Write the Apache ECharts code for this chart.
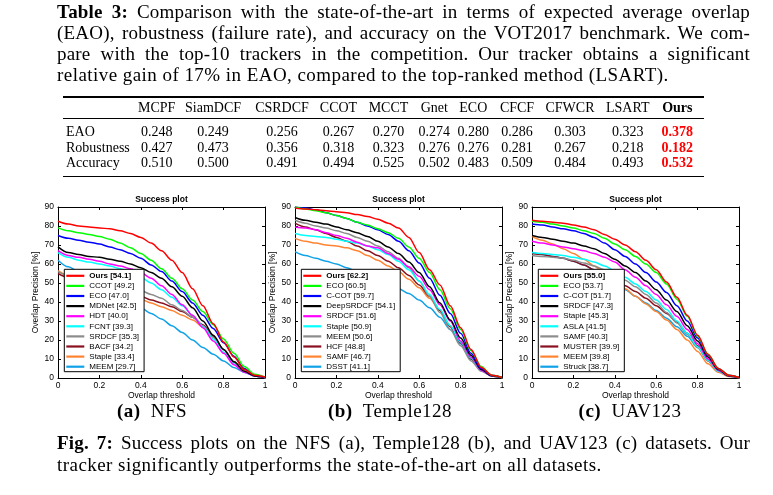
<!DOCTYPE html>
<html><head><meta charset="utf-8">
<script src="https://cdn.jsdelivr.net/npm/echarts@6/dist/echarts.min.js"></script>
<style>
html,body{margin:0;padding:0;background:#fff;}
#page{position:relative;width:773px;height:495px;overflow:hidden;background:#fff;}
#chart{position:absolute;left:0;top:0;width:773px;height:495px;}
.txt{position:absolute;font-family:"Liberation Serif","Times New Roman",serif;color:#000;white-space:nowrap;}
.cap{left:57px;width:693px;font-size:19px;line-height:21px;letter-spacing:0.45px;}
.just{text-align:justify;text-align-last:justify;white-space:normal;letter-spacing:0.2px;}
.rule{position:absolute;left:63px;width:641px;background:#000;}
.cell{position:absolute;font-family:"Liberation Serif","Times New Roman",serif;font-size:14px;line-height:16px;white-space:nowrap;transform:translateX(-50%);color:#000;}
.lab{position:absolute;font-family:"Liberation Serif","Times New Roman",serif;font-size:14px;line-height:16px;white-space:nowrap;left:66px;}
.sub{position:absolute;font-family:"Liberation Serif","Times New Roman",serif;font-size:19px;line-height:20px;letter-spacing:0.45px;white-space:nowrap;transform:translateX(-50%);top:401px;}
</style>
</head><body>
<div id="page">
  <div id="chart"></div>
  <div class="txt cap just" style="top:1px"><b>Table 3:</b> Comparison with the state-of-the-art in terms of expected average overlap</div>
  <div class="txt cap just" style="top:22px">(EAO), robustness (failure rate), and accuracy on the VOT2017 benchmark. We com-</div>
  <div class="txt cap just" style="top:43px">pare with the top-10 trackers in the competition. Our tracker obtains a significant</div>
  <div class="txt cap" style="top:64px">relative gain of 17% in EAO, compared to the top-ranked method (LSART).</div>
  <div class="rule" style="top:96px;height:1.5px"></div>
  <div class="rule" style="top:118px;height:1px"></div>
  <div class="rule" style="top:175.5px;height:1.5px"></div>
  <div id="table"></div>
  <div class="sub" style="left:152px"><b>(a)</b>&nbsp; NFS</div>
  <div class="sub" style="left:390px"><b>(b)</b>&nbsp; Temple128</div>
  <div class="sub" style="left:630px"><b>(c)</b>&nbsp; UAV123</div>
  <div class="txt cap just" style="top:432px"><b>Fig. 7:</b> Success plots on the NFS (a), Temple128 (b), and UAV123 (c) datasets. Our</div>
  <div class="txt cap" style="top:454px">tracker significantly outperforms the state-of-the-art on all datasets.</div>
</div>
<script>
// ---------- Table data ----------
const tableMethods = ['MCPF','SiamDCF','CSRDCF','CCOT','MCCT','Gnet','ECO','CFCF','CFWCR','LSART','Ours'];
const rowLabels = ['EAO','Robustness','Accuracy'];
const eaoValues = ['0.248','0.249','0.256','0.267','0.270','0.274','0.280','0.286','0.303','0.323','0.378'];
const robustnessValues = ['0.427','0.473','0.356','0.318','0.323','0.276','0.276','0.281','0.267','0.218','0.182'];
const accuracyValues = ['0.510','0.500','0.491','0.494','0.525','0.502','0.483','0.509','0.484','0.493','0.532'];

// ---------- Chart data ----------
const thresholds = [0,0.05,0.1,0.15,0.2,0.25,0.3,0.35,0.4,0.45,0.5,0.55,0.6,0.65,0.7,0.75,0.8,0.85,0.9,0.95,1];
const xTicks = [0,0.2,0.4,0.6,0.8,1];
const yTicks = [0,10,20,30,40,50,60,70,80,90];

const nfsNames = ['Ours [54.1]','CCOT [49.2]','ECO [47.0]','MDNet [42.5]','HDT [40.0]','FCNT [39.3]','SRDCF [35.3]','BACF [34.2]','Staple [33.4]','MEEM [29.7]'];
const nfsOurs   = [82.5,81,80,79.5,79,78.5,77.5,76,74,71,67,62,55.5,47,38,28.5,19,11,4.5,1.5,0.5];
const nfsCCOT   = [79,77.5,76.5,75.5,74.5,73,71,68.5,65.5,62,57.5,52.5,47,41,35,28,20.5,13,6,2,0.5];
const nfsECO    = [75,73.5,72.5,71.5,70.5,69,67.5,65.5,63,59.5,56,51,45.5,39.5,33,26,18.5,11.5,5,1.5,0.3];
const nfsMDNet  = [69,66,65,64,63.5,62.5,61.5,60,58,55.5,52.5,48,43,37,30,22.5,15,8.5,3.5,1,0.2];
const nfsHDT    = [67,64.5,63.5,62.5,61.5,60,59,57.5,55.5,52.5,48.5,44,38.5,33,26.5,19.5,13,7,3,1,0.2];
const nfsFCNT   = [66,63.5,62,61,60,59,57.5,55.5,53,50,46.5,42.5,38,33,27,20.5,13.5,7.5,3,1,0.2];
const nfsSRDCF  = [56,54,53.5,52.5,51.5,50.5,49,47.5,46,44,42,38.5,35.5,32,27.5,21.5,15,8.5,3.5,1,0.2];
const nfsBACF   = [55,53,51.5,50.5,49.5,48.5,47,45,43,41,39.5,37.5,35,32,28,22,15,8.5,3.5,1,0.2];
const nfsStaple = [56.5,54,52,50.5,49,47.5,45.5,43.5,41.5,39.5,37.5,35.5,33,30.5,27,21.5,15,8.5,3.5,1,0.2];
const nfsMEEM   = [62,58.5,56,53.5,51,47.5,44,40,37,34,31,27.5,24,20,16,12.5,9,5.5,3,1,0.2];

const templeNames = ['Ours [62.2]','ECO [60.5]','C-COT [59.7]','DeepSRDCF [54.1]','SRDCF [51.6]','Staple [50.9]','MEEM [50.6]','HCF [48.8]','SAMF [46.7]','DSST [41.1]'];
const tOurs      = [89.5,89,88.5,88,87.5,87,86,85,83.5,81.5,79,74,66,57,49,38,26.5,15,5.5,1.5,0.3];
const tECO       = [90,89,88,87,85.5,84,82,80.5,78.5,76.5,73.5,69,63,55.5,46.5,36.5,25.5,14.5,6,1.5,0.3];
const tCCOT      = [90,89.5,88.5,87,85.5,84,82,80,78,75.5,72,67,60.5,52.5,43.5,34,23.5,13,5,1.5,0.3];
const tDeepSRDCF = [84.5,83,82,81,79.5,78,76.5,74.5,72,69,65.5,61,55.5,48,39.5,30.5,21,12,4.5,1.2,0.2];
const tSRDCF     = [79.5,79,78,76.5,75,73.5,71.5,69.5,68.5,65.5,62.5,58.5,53.5,46.5,38.5,30,19.5,11,4,1,0.2];
const tStaple    = [76,75,74.5,74,73,72,71,69.5,67.5,65,61.5,57,51,44,36,27.5,19,10.5,4,1,0.2];
const tMEEM      = [83,81.5,80,79,77.5,76,74,72,69.5,66.5,63,58,51,43,34.5,25.5,17,9,3.5,1,0.2];
const tHCF       = [81.5,79.5,78,76,74,72,69.5,67,64.5,61.5,58,54,49,43,35.5,27,18.5,10,4,1,0.2];
const tSAMF      = [73.5,72,71,70,69.5,68.5,67,64.5,62,59,56,52,47.5,42,35.5,27.5,19,10.5,4,1,0.2];
const tDSST      = [66.5,64.5,63,61.5,60,58,56,53.5,51,49,47,44.5,41,37,32,25.5,18,10,4,1,0.2];

const uavNames = ['Ours [55.0]','ECO [53.7]','C-COT [51.7]','SRDCF [47.3]','Staple [45.3]','ASLA [41.5]','SAMF [40.3]','MUSTER [39.9]','MEEM [39.8]','Struck [38.7]'];
const uOurs   = [83,82.5,82,81.5,80.5,79.5,78,75.5,73,70,66.5,62,57,50.5,42.5,33,22.5,12.5,5,1.5,0.3];
const uECO    = [82.5,82,81,80,79,77.5,76,73.5,70.5,67.5,64,60,55.5,49.5,41.5,32.5,22,12.5,5,1.5,0.3];
const uCCOT   = [81,80.5,79.5,78.5,77.5,76,74,71,67.5,64,60,55.5,50.5,45,38,30,21,12,5,1.5,0.3];
const uSRDCF  = [75,74,73,72,71,69.5,68,65.5,62.5,59,55.5,51,46.5,41,35,27.5,19.5,11,4.5,1.2,0.2];
const uStaple = [72,71,70,69,68,67,65.5,63.5,61,57,53,48.5,44,38.5,32.5,25.5,18,10,4,1,0.2];
const uASLA   = [66,65.5,65,64.5,63.5,62.5,61,59,56.5,53,49.5,45.5,41,36,30,23.5,16.5,9.5,3.5,1,0.2];
const uSAMF   = [64.5,64,63.5,63,62,60.5,59,57,54.5,51.5,48,44,39.5,34.5,29,23,16,9,3.5,1,0.2];
const uMUSTER = [65.5,65,64,63,61.5,59.5,57,54,51.5,48.5,45.5,42,38,34,29.5,23.5,17,10,4,1,0.2];
const uMEEM   = [74.5,72.5,70.5,68,65.5,62.5,59,55,51,47,43,39,35,30.5,25.5,20,14,7.5,3,0.8,0.1];
const uStruck = [66,65,64,63,61.5,59.5,57,53.5,50,46.5,43,39.5,35.5,31.5,27,22,16,9,3.5,1,0.2];

// ---------- Styles / layout ----------
const palette = ['#ff0000','#00ff00','#0000ff','#000000','#ff00ff','#00ffff','#8c8c8c','#8a1020','#ff8330','#10a2e8'];
const SANS = '"Liberation Sans", Arial, Helvetica, sans-serif';
const colCenters = [156.7,213,282,338.5,388.5,434.3,473.3,517,570,627.7,677.3];
const rowCenters = [108.3,131.7,147.7,163.3];

// ---------- Table (HTML) ----------
(function(){
  const t = document.getElementById('table');
  const rows = [eaoValues, robustnessValues, accuracyValues];
  let html = '';
  tableMethods.forEach((m,i)=>{
    const b = m==='Ours';
    html += `<div class="cell" style="left:${colCenters[i]}px;top:${rowCenters[0]-8}px;${b?'font-weight:bold;':''}">${m}</div>`;
  });
  rows.forEach((r,ri)=>{
    html += `<div class="lab" style="top:${rowCenters[ri+1]-8}px">${rowLabels[ri]}</div>`;
    r.forEach((v,i)=>{
      const b = tableMethods[i]==='Ours';
      html += `<div class="cell" style="left:${colCenters[i]}px;top:${rowCenters[ri+1]-8}px;${b?'font-weight:bold;color:#ff0000;':''}">${v}</div>`;
    });
  });
  t.innerHTML = html;
})();

// ---------- Charts ----------
const panels = [
  {names: nfsNames, values: [nfsOurs,nfsCCOT,nfsECO,nfsMDNet,nfsHDT,nfsFCNT,nfsSRDCF,nfsBACF,nfsStaple,nfsMEEM]},
  {names: templeNames, values: [tOurs,tECO,tCCOT,tDeepSRDCF,tSRDCF,tStaple,tMEEM,tHCF,tSAMF,tDSST]},
  {names: uavNames, values: [uOurs,uECO,uCCOT,uSRDCF,uStaple,uASLA,uSAMF,uMUSTER,uMEEM,uStruck]}
];
const gridLefts = [58,295,532];
const legendLefts = [64.3,301.3,538.3];
const gridTop = 207, gridW = 207, gridH = 171;

const option = {
  animation:false,
  backgroundColor:'transparent',
  textStyle:{fontFamily:SANS},
  title:[], grid:[], xAxis:[], yAxis:[], legend:[], series:[]
};
const axisCommon = {
  axisLine:{show:true,onZero:false,lineStyle:{color:'#000',width:1}},
  axisTick:{show:true,inside:true,length:3,lineStyle:{color:'#000',width:1}},
  splitLine:{show:false}
};
panels.forEach((p,d)=>{
  option.grid.push({left:gridLefts[d],top:gridTop,width:gridW,height:gridH,containLabel:false});
  option.title.push({text:'Success plot',left:gridLefts[d]+gridW/2,top:195,textAlign:'center',padding:0,
    textStyle:{fontSize:8.5,fontWeight:'bold',color:'#000',fontFamily:SANS,lineHeight:10}});
  option.xAxis.push(Object.assign({gridIndex:d,type:'value',min:xTicks[0],max:xTicks[xTicks.length-1],interval:xTicks[1]-xTicks[0],position:'bottom',
    axisLabel:{fontSize:8.5,color:'#000',margin:3,fontFamily:SANS},
    name:'Overlap threshold',nameLocation:'middle',nameGap:13,nameTextStyle:{fontSize:8.5,color:'#000',fontFamily:SANS}},axisCommon));
  option.xAxis.push(Object.assign({gridIndex:d,type:'value',min:xTicks[0],max:xTicks[xTicks.length-1],interval:xTicks[1]-xTicks[0],position:'top',
    axisLabel:{show:false}},axisCommon));
  option.yAxis.push(Object.assign({gridIndex:d,type:'value',min:yTicks[0],max:yTicks[yTicks.length-1],interval:yTicks[1]-yTicks[0],position:'left',
    axisLabel:{fontSize:8.5,color:'#000',margin:4,fontFamily:SANS},
    name:'Overlap Precision [%]',nameLocation:'middle',nameGap:15,nameTextStyle:{fontSize:8.5,color:'#000',fontFamily:SANS}},axisCommon));
  option.yAxis.push(Object.assign({gridIndex:d,type:'value',min:yTicks[0],max:yTicks[yTicks.length-1],interval:yTicks[1]-yTicks[0],position:'right',
    axisLabel:{show:false}},axisCommon));
  option.legend.push({
    orient:'vertical',left:legendLefts[d],top:269.3,data:p.names,
    icon:'rect',itemWidth:18,itemHeight:2.2,itemGap:0.1,
    padding:[1.5,5,0,2],backgroundColor:'#fff',borderColor:'#000',borderWidth:1,borderRadius:0,
    selectedMode:false,z:100,
    textStyle:{fontSize:8,lineHeight:10,color:'#000',fontFamily:SANS,
      rich:{b:{fontSize:8,lineHeight:10,fontWeight:'bold',color:'#000',fontFamily:SANS}}},
    formatter:(n)=> n.indexOf('Ours')===0 ? '{b|'+n+'}' : n
  });
  for(let j=p.names.length-1;j>=0;j--){
    option.series.push({
      type:'line',name:p.names[j],xAxisIndex:2*d,yAxisIndex:2*d,
      data:thresholds.map((t,k)=>[t,p.values[j][k]]),
      showSymbol:false,symbol:'none',smooth:0.3,smoothMonotone:'x',clip:true,
      lineStyle:{color:palette[j],width:1.5},itemStyle:{color:palette[j]},
      emphasis:{disabled:true},z:3
    });
  }
});
const chart = echarts.init(document.getElementById('chart'),null,{renderer:'canvas'});
chart.setOption(option);
</script>
</body></html>
